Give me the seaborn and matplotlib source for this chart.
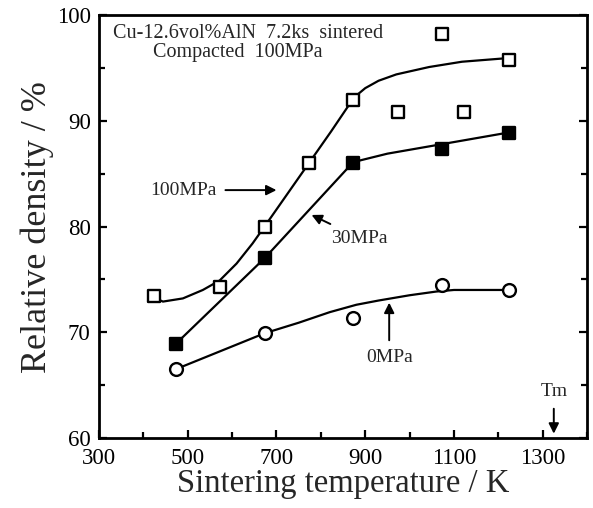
#!/usr/bin/env python3
"""Relative density of Cu-12.6vol%AlN compacts versus sintering temperature."""

import matplotlib
matplotlib.use("Agg")
import matplotlib.pyplot as plt
import seaborn as sns
from matplotlib.ticker import MultipleLocator

# measured points
temp_100 = [423, 573, 673, 773, 873, 973, 1073, 1123, 1223]
dens_100 = [73.4, 74.3, 80.0, 86.0, 92.0, 90.8, 98.2, 90.8, 95.8]
temp_30 = [473, 673, 873, 1073, 1223]
dens_30 = [68.9, 77.0, 86.0, 87.3, 88.9]
temp_0 = [473, 673, 873, 1073, 1223]
dens_0 = [66.5, 69.9, 71.3, 74.5, 74.0]

# hand-drawn guide curves
curve100_t = [423, 444, 489, 534, 572, 610, 646, 673, 723, 773, 823, 860,
              880, 900, 930, 970, 1044, 1118, 1208, 1223]
curve100_d = [73.3, 72.9, 73.2, 74.0, 74.9, 76.5, 78.4, 80.0, 83.0, 86.0,
              89.0, 91.3, 92.4, 93.1, 93.8, 94.4, 95.1, 95.6, 95.9, 96.0]
curve30_t = [473, 673, 873, 950, 1073, 1223]
curve30_d = [68.9, 77.0, 86.1, 86.9, 87.8, 88.9]
curve0_t = [473, 673, 750, 820, 880, 930, 1000, 1060, 1100, 1223]
curve0_d = [66.5, 69.9, 70.9, 71.9, 72.6, 73.0, 73.5, 73.85, 74.0, 74.0]

sns.set_style("ticks")
plt.rcParams["font.family"] = ["Liberation Serif", "DejaVu Serif"]

fig = plt.figure(figsize=(5.93, 5.08), dpi=100)
ax = fig.add_axes([0.167, 0.138, 0.823, 0.832])

lw = 1.6
for t, d in [(curve100_t, curve100_d), (curve30_t, curve30_d), (curve0_t, curve0_d)]:
    sns.lineplot(x=t, y=d, ax=ax, color="black", lw=lw, sort=False,
                 estimator=None, zorder=2)

msize = 85
sns.scatterplot(x=temp_100, y=dens_100, ax=ax, marker="s", s=msize,
                facecolor="white", edgecolor="black", linewidth=1.7, zorder=3)
sns.scatterplot(x=temp_30, y=dens_30, ax=ax, marker="s", s=msize,
                facecolor="black", edgecolor="black", linewidth=1.7, zorder=3)
sns.scatterplot(x=temp_0, y=dens_0, ax=ax, marker="o", s=msize,
                facecolor="white", edgecolor="black", linewidth=1.7, zorder=3)

ax.set_xlim(300, 1400)
ax.set_ylim(60, 100)
ax.set_xticks([300, 500, 700, 900, 1100, 1300])
ax.xaxis.set_minor_locator(MultipleLocator(100))
ax.yaxis.set_major_locator(MultipleLocator(10))
ax.yaxis.set_minor_locator(MultipleLocator(5))
ax.tick_params(which="both", direction="in", right=True, top=False,
               labelsize=16.5, width=1.6, colors="black")
ax.tick_params(which="major", length=6)
ax.tick_params(which="minor", length=4)
ax.tick_params(axis="x", pad=7)
ax.tick_params(axis="y", pad=6)
for sp in ax.spines.values():
    sp.set_linewidth(2.0)
    sp.set_color("black")

ax.set_xlabel("Sintering temperature / K", fontsize=23.5, labelpad=0)
ax.set_ylabel("Relative density / %", fontsize=26, labelpad=2)

ax.text(636, 98.3, "Cu-12.6vol%AlN  7.2ks  sintered", ha="center",
        va="center", fontsize=14.5)
ax.text(612, 96.5, "Compacted  100MPa", ha="center", va="center",
        fontsize=14.5)

arrow = dict(arrowstyle="-|>", color="black", lw=1.4, mutation_scale=15,
             shrinkA=4, shrinkB=0)
ax.annotate("100MPa", xy=(700, 83.45), xytext=(565, 83.45), ha="right",
            va="center", fontsize=14, arrowprops=arrow)
ax.annotate("30MPa", xy=(779, 81.1), xytext=(824, 78.9), ha="left",
            va="center", fontsize=14, arrowprops=arrow)
ax.annotate("0MPa", xy=(954, 72.8), xytext=(954, 67.6), ha="center",
            va="center", fontsize=14, arrowprops=arrow)
ax.annotate("Tm", xy=(1325, 60.4), xytext=(1325, 64.4), ha="center",
            va="center", fontsize=14, arrowprops=arrow)

fig.savefig("out.png", dpi=100)
